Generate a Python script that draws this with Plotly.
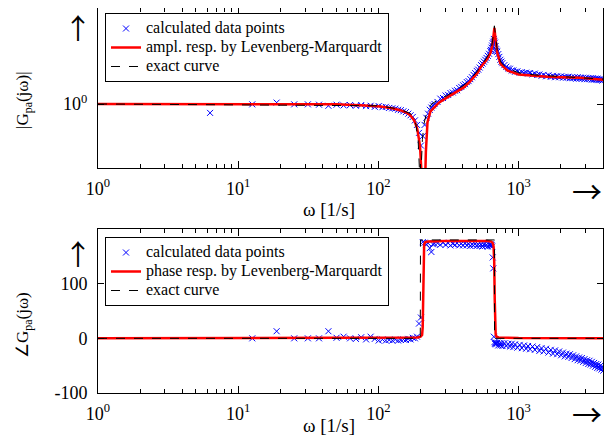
import plotly.graph_objects as go
import math

# ---------------- data ----------------
omega_pts = [
    6.3, 12.6, 18.8, 25.1, 31.4, 37.7, 44.0, 50.3, 56.5, 62.8,
    69.1, 75.4, 81.7, 88.0, 94.2, 100.5, 106.8, 113.1, 119.4, 125.7,
    131.9, 138.2, 144.5, 150.8, 157.1, 163.4, 169.6, 175.9, 182.2, 188.5,
    194.8, 201.1, 207.3, 213.6, 219.9, 226.2, 232.5, 238.8, 245.0, 251.3,
    263.9, 276.5, 289.0, 301.6, 314.2, 326.7, 339.3, 351.9, 364.4, 377.0,
    389.6, 402.1, 414.7, 427.3, 439.8, 452.4, 465.0, 477.5, 490.1, 502.7,
    515.2, 527.8, 540.4, 552.9, 565.5, 578.1, 590.6, 603.2, 615.8, 628.3,
    634.6, 640.9, 647.2, 653.5, 659.7, 666.0, 672.3, 678.6, 684.9, 691.2,
    697.4, 703.7, 716.3, 728.8, 741.4, 754.0, 766.5, 791.7, 816.8, 842.0,
    867.1, 892.2, 917.3, 942.5, 980.2, 1017.9, 1055.6, 1093.3, 1131.0, 1168.7,
    1206.4, 1256.6, 1306.9, 1357.2, 1407.4, 1457.7, 1508.0, 1570.8, 1633.6, 1696.5,
    1759.3, 1822.1, 1884.9, 1947.8, 2010.6, 2073.5, 2136.3, 2199.1, 2261.9, 2324.8,
    2387.6, 2450.4, 2513.3, 2576.1, 2638.9, 2701.8, 2764.6, 2827.4, 2890.3, 2953.1,
    3015.9, 3078.8, 3141.6, 3204.4, 3267.3, 3330.1, 3392.9, 3455.8, 3518.6, 3581.4,
    3644.2, 3707.1, 3769.9, 3832.7, 3895.6, 3958.4, 4021.2,
]
amp_pts = [
    0.88, 0.995, 1.02, 0.995, 0.995, 0.99, 0.975, 0.99, 0.98, 0.985,
    0.975, 0.985, 0.97, 0.975, 0.96, 0.97, 0.955, 0.96, 0.945, 0.94,
    0.935, 0.92, 0.915, 0.90, 0.89, 0.87, 0.85, 0.83, 0.79, 0.74,
    0.66, 0.55, 0.63, 0.74, 0.82, 0.87, 0.92, 0.95, 0.98, 1.00,
    1.03, 1.08, 1.09, 1.13, 1.14, 1.17, 1.18, 1.21, 1.22, 1.26,
    1.28, 1.31, 1.33, 1.37, 1.39, 1.43, 1.47, 1.52, 1.56, 1.61,
    1.64, 1.69, 1.75, 1.79, 1.84, 1.89, 1.94, 2.00, 2.06, 2.14,
    2.18, 2.25, 2.32, 2.40, 2.45, 2.55, 2.48, 2.42, 2.30, 2.20,
    2.15, 2.12, 2.05, 1.97, 1.89, 1.84, 1.80, 1.75, 1.71, 1.67,
    1.66, 1.62, 1.62, 1.59, 1.60, 1.57, 1.58, 1.56, 1.57, 1.55,
    1.56, 1.53, 1.55, 1.52, 1.53, 1.50, 1.52, 1.49, 1.51, 1.48,
    1.50, 1.47, 1.49, 1.47, 1.49, 1.46, 1.48, 1.46, 1.48, 1.45,
    1.47, 1.45, 1.47, 1.44, 1.47, 1.44, 1.46, 1.44, 1.46, 1.43,
    1.46, 1.43, 1.45, 1.43, 1.45, 1.42, 1.45, 1.42, 1.44, 1.42,
    1.44, 1.41, 1.43, 1.41, 1.43, 1.40, 1.42,
]
phase_pts = [
    None, 0, 13, 0, 0, 0, 13, 1, 3, 0,
    -1, 2, -2, 3, -1, -4, -2, -4, -3, -4,
    -2, -4, -3, -2, -3, -1, -2, 1, 0, 3,
    27, 38, 176, 175, 172, 174, 165, 158, 172, 173,
    174, 171, 175, 171, 174, 170, 173, 171, 174, 170,
    173, 170, 174, 170, 173, 169, 172, 170, 173, 169,
    172, 169, 172, 168, 172, 169, 171, 168, 171, 170,
    172, 170, 168, 148, 128, 3, -7, -10, -8, -11,
    -9, -8, -13, -9, -13, -9, -14, -9, -14, -10,
    -15, -10, -16, -11, -17, -12, -18, -13, -19, -14,
    -20, -15, -21, -16, -23, -18, -24, -19, -26, -21,
    -28, -22, -29, -24, -31, -26, -33, -28, -34, -29,
    -36, -31, -38, -33, -40, -35, -41, -36, -43, -38,
    -45, -40, -47, -41, -48, -43, -50, -45, -52, -47,
    -54, -48, -55, -50, -57, -52, -59,
]

omega_fit_amp = [1, 10, 50, 80, 103, 125, 143, 160, 169, 180, 189, 198, 204, 208, 211,
                 214, 218, 224, 235, 246, 270, 310, 350, 407, 450, 478, 510, 535, 570, 597,
                 630, 649, 665, 672, 680, 704, 743, 780, 830, 1000, 1300, 1600, 2000, 2750, 4000]
amp_fit = [1.0, 1.0, 0.995, 0.98, 0.965, 0.94, 0.915, 0.88, 0.85, 0.79, 0.705, 0.55, 0.40, 0.25, 0.05,
           0.25, 0.5, 0.77, 0.9, 0.94, 1.02, 1.10, 1.17, 1.27, 1.38, 1.47, 1.57, 1.69, 1.80, 1.91,
           2.08, 2.31, 2.75, 2.99, 2.7, 2.10, 1.78, 1.70, 1.62, 1.53, 1.50, 1.48, 1.47, 1.46, 1.42]

omega_exact_amp = [1, 100, 140, 170, 185, 192, 196, 199, 202, 206, 212, 222, 240, 270, 310,
                   350, 407, 450, 478, 510, 535, 570, 597, 630, 649, 665, 672, 680, 704, 743,
                   780, 830, 1000, 1300, 1600, 2000, 2750, 4000]
amp_exact = [1.0, 0.975, 0.93, 0.87, 0.75, 0.6, 0.4, 0.05, 0.4, 0.6, 0.76, 0.9, 1.0, 1.07, 1.13,
             1.21, 1.31, 1.42, 1.51, 1.61, 1.74, 1.85, 1.97, 2.15, 2.4, 2.9, 3.08, 2.8, 2.18, 1.84,
             1.75, 1.67, 1.57, 1.52, 1.50, 1.48, 1.46, 1.43]

omega_fit_phase = [1, 150, 190, 200, 205, 207, 208.5, 210, 212, 216, 225, 300, 450, 600, 640,
                   655, 663, 670, 676, 681, 686, 695, 720, 1000, 4000]
phase_fit = [0, 0.5, 1.5, 3, 6, 20, 90, 160, 172, 176, 177, 178, 178.5, 178, 177,
             174, 168, 140, 70, 20, 8, 3, 1.5, 0.5, 0]

omega_exact_phase = [1, 199.0, 199.6, 672.5, 673.5, 4000]
phase_exact = [0, 0, 180, 180, 0, 0]

x_tickvals = [1, 10, 100, 1000]
x_ticktext = ["10<sup>0</sup>", "10<sup>1</sup>", "10<sup>2</sup>", "10<sup>3</sup>"]
x_minor = [2, 3, 4, 5, 6, 7, 8, 9, 20, 30, 40, 50, 60, 70, 80, 90,
           200, 300, 400, 500, 600, 700, 800, 900, 2000, 3000]
amp_tickvals = [1]
amp_ticktext = ["10<sup>0</sup>"]
phase_tickvals = [-100, 0, 100]
phase_ticktext = ["-100", "0", "100"]

legend_amp = ["calculated data points", "ampl. resp. by Levenberg-Marquardt", "exact curve"]
legend_phase = ["calculated data points", "phase resp. by Levenberg-Marquardt", "exact curve"]

# ---------------- figure ----------------
# the page body has an 8px margin, so the figure is 8px smaller than the window
OFF = 8
W, H = 612 - OFF, 439 - OFF
FONT = "Liberation Serif, Times New Roman, serif"
ARROWFONT = "Noto Sans CJK JP, DejaVu Sans, sans-serif"
BLUE = "#0000ff"
RED = "#ff0000"

def px(x):
    return min(1.0, max(0.0, (x - OFF) / W))

def py(y):
    return min(1.0, max(0.0, 1 - (y - OFF) / H))

def lg(s):
    return '<span style="font-size:16px">' + s + '</span>'

fig = go.Figure()

# amplitude subplot
fig.add_trace(go.Scatter(x=omega_pts, y=amp_pts, mode="markers", name=lg(legend_amp[0]),
                         marker=dict(symbol="x-thin", size=6, color=BLUE, line=dict(width=1, color=BLUE)),
                         xaxis="x", yaxis="y", legend="legend"))
fig.add_trace(go.Scatter(x=omega_fit_amp, y=amp_fit, mode="lines", name=lg(legend_amp[1]),
                         line=dict(color=RED, width=2.5), xaxis="x", yaxis="y", legend="legend"))
fig.add_trace(go.Scatter(x=omega_exact_amp, y=amp_exact, mode="lines", name=lg(legend_amp[2]),
                         line=dict(color="black", width=1, dash="dash"), xaxis="x", yaxis="y", legend="legend"))

# phase subplot
fig.add_trace(go.Scatter(x=omega_pts, y=phase_pts, mode="markers", name=lg(legend_phase[0]),
                         marker=dict(symbol="x-thin", size=6, color=BLUE, line=dict(width=1, color=BLUE)),
                         xaxis="x2", yaxis="y2", legend="legend2"))
fig.add_trace(go.Scatter(x=omega_fit_phase, y=phase_fit, mode="lines", name=lg(legend_phase[1]),
                         line=dict(color=RED, width=2.5), xaxis="x2", yaxis="y2", legend="legend2"))
fig.add_trace(go.Scatter(x=omega_exact_phase, y=phase_exact, mode="lines", name=lg(legend_phase[2]),
                         line=dict(color="black", width=1, dash="dash"), xaxis="x2", yaxis="y2", legend="legend2"))

xdom = [px(98), px(603)]
xcommon = dict(type="log", range=[0, math.log10(4000)], domain=xdom, automargin=False,
               tickmode="array", tickvals=x_tickvals, ticktext=x_ticktext,
               ticks="inside", ticklen=7, tickcolor="black", tickwidth=1,
               showline=True, linecolor="black", linewidth=1, mirror="ticks",
               showgrid=False, zeroline=False, ticklabelstandoff=4,
               tickfont=dict(family=FONT, size=18, color="black"),
               minor=dict(tickmode="array", tickvals=x_minor, ticks="inside", ticklen=4,
                          tickcolor="black", tickwidth=1, showgrid=False))

ycommon = dict(ticks="inside", ticklen=6, tickcolor="black", tickwidth=1, automargin=False,
               showline=True, linecolor="black", linewidth=1, mirror="ticks",
               showgrid=False, zeroline=False, ticklabelstandoff=6,
               tickfont=dict(family=FONT, size=18, color="black"))

legcommon = dict(xanchor="left", yanchor="top", bordercolor="black", borderwidth=1,
                 bgcolor="white", font=dict(family=FONT, size=12, color="black"),
                 tracegroupgap=0)

fig.update_layout(
    width=W, height=H, autosize=False,
    margin=dict(l=0, r=0, t=0, b=0, pad=0, autoexpand=False),
    paper_bgcolor="white", plot_bgcolor="white",
    font=dict(family=FONT, size=15, color="black"),
    xaxis=dict(anchor="y", **xcommon),
    xaxis2=dict(anchor="y2", **xcommon),
    yaxis=dict(anchor="x", type="log", range=[-0.4, 0.6], domain=[py(168), py(8)],
               tickmode="array", tickvals=amp_tickvals, ticktext=amp_ticktext, **ycommon),
    yaxis2=dict(anchor="x2", range=[-100, 200], domain=[py(393), py(229)],
                tickmode="array", tickvals=phase_tickvals, ticktext=phase_ticktext, **ycommon),
    legend=dict(x=px(105), y=py(13), **legcommon),
    legend2=dict(x=px(105), y=py(237), **legcommon),
    showlegend=True,
)

ann = []
def text(x, y, s, size=15, angle=0, family=FONT):
    ann.append(dict(x=px(x), y=py(y), xref="paper", yref="paper", text=s, showarrow=False,
                    xanchor="center", yanchor="middle", textangle=angle,
                    font=dict(family=family, size=size, color="black")))

text(329, 209, "ω [1/s]", 19)
text(329, 425, "ω [1/s]", 19)
text(78, 27, "↑", 28, family=ARROWFONT)
text(78, 253, "↑", 28, family=ARROWFONT)
text(587, 190, "→", 30, family=ARROWFONT)
text(587, 413, "→", 30, family=ARROWFONT)
text(24, 100, "|G<sub>pa</sub>(jω)|", 17, -90)
text(24, 325, "∠G<sub>pa</sub>(jω)", 17, -90)
fig.update_layout(annotations=ann)

fig.write_html("out.html")
